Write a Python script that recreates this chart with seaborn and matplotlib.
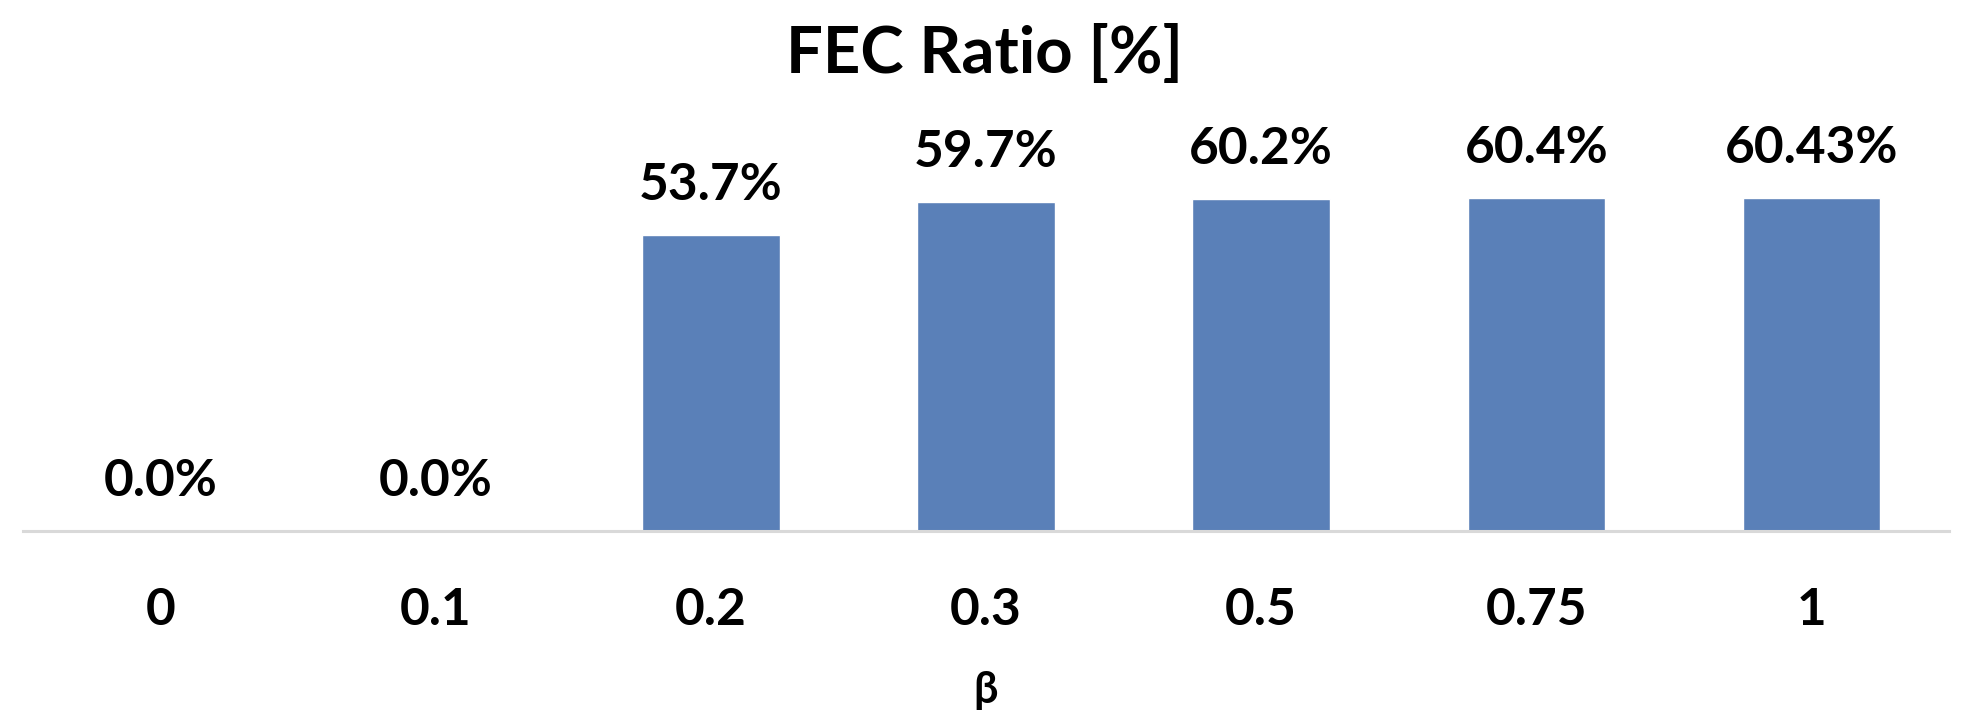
import pandas as pd
import matplotlib
matplotlib.use("Agg")
import matplotlib.pyplot as plt
import seaborn as sns

# ---------------------------
# Data
# ---------------------------
beta = ["0", "0.1", "0.2", "0.3", "0.5", "0.75", "1"]
fec_ratio = [0.0, 0.0, 53.7, 59.7, 60.2, 60.4, 60.43]
bar_labels = ["0.0%", "0.0%", "53.7%", "59.7%", "60.2%", "60.4%", "60.43%"]

df = pd.DataFrame({"beta": beta, "fec": fec_ratio})

# ---------------------------
# Style
# ---------------------------
sns.set_style("white")
plt.rcParams["font.family"] = ["Lato", "DejaVu Sans"]
plt.rcParams["font.weight"] = "bold"
plt.rcParams["text.color"] = "black"
plt.rcParams["xtick.color"] = "black"
plt.rcParams["axes.labelcolor"] = "black"

bar_color = "#5A80B8"

fig = plt.figure(figsize=(19.71, 7.26), dpi=100)
ax = fig.add_axes([23 / 1971, 195 / 726, 1926 / 1971, 386 / 726])

sns.barplot(data=df, x="beta", y="fec", order=beta, color=bar_color,
            width=0.5, saturation=1, ax=ax)

# value labels above each bar
for i, (v, lab) in enumerate(zip(fec_ratio, bar_labels)):
    ax.annotate(lab, xy=(i, v), xytext=(0, 25), textcoords="offset points",
                ha="center", va="baseline", fontsize=37, fontweight="bold",
                color="black", annotation_clip=False)

ax.set_xlim(-0.5, len(beta) - 0.5)
ax.set_ylim(0, 70)
ax.set_yticks([])
ax.set_ylabel("")

for side in ["top", "right", "left"]:
    ax.spines[side].set_visible(False)
ax.spines["bottom"].set_color("#d9d9d9")
ax.spines["bottom"].set_linewidth(2.2)

ax.tick_params(axis="x", length=0, pad=40, labelsize=37, labelcolor="black")
for t in ax.get_xticklabels():
    t.set_fontweight("bold")

ax.set_xlabel("β", fontsize=31, fontweight="bold", labelpad=26, color="black")

fig.text(985 / 1971, 1 - 73 / 726, "FEC Ratio [%]", ha="center",
         va="baseline", fontsize=47, fontweight="bold", color="black")

fig.savefig("out.png", dpi=100, facecolor="white")
